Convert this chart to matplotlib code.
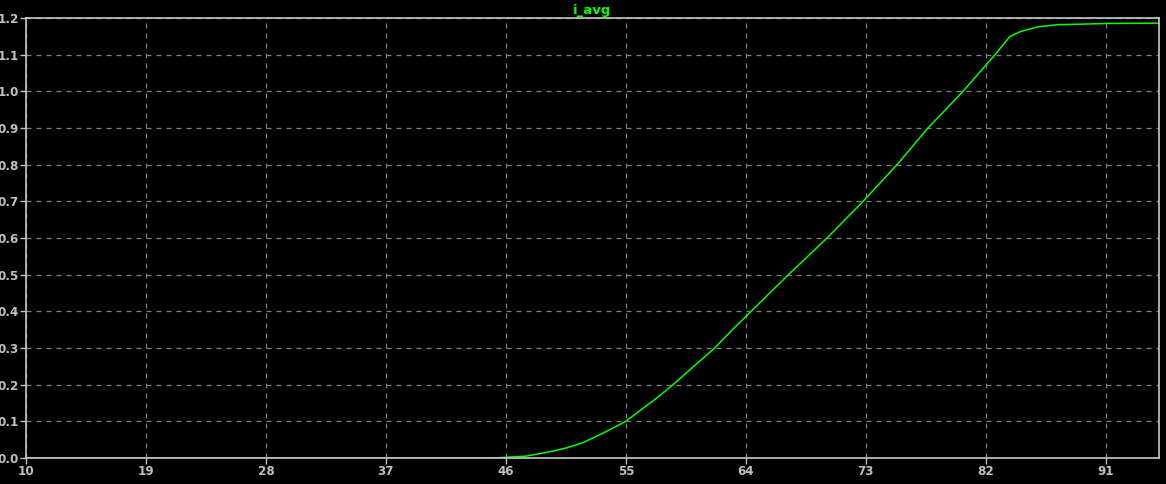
"""
i_avg waveform
"""
import matplotlib
matplotlib.use('Agg')
import matplotlib.pyplot as plt
import numpy as np

matplotlib.rcParams['font.family'] = ['DejaVu Sans']

# data
x = [10, 20, 30, 40, 45, 45.6, 46.5, 47.5, 49.3, 50.5, 51.8, 53.3, 55, 56.05, 57.3, 58.55,
     60.1, 61.67, 63, 64.4, 67.2, 70.1, 72.8, 75.35, 77.67, 80.3, 82.7, 83.8, 84.6, 85.9,
     87.5, 89, 91, 95]
y = [0, 0, 0, 0, 0, 0.001, 0.003, 0.005, 0.017, 0.027, 0.042, 0.068, 0.100, 0.129, 0.163,
     0.200, 0.250, 0.300, 0.350, 0.400, 0.500, 0.600, 0.700, 0.800, 0.900, 1.000, 1.100,
     1.149, 1.163, 1.176, 1.182, 1.183, 1.185, 1.186]
xticks = [10, 19, 28, 37, 46, 55, 64, 73, 82, 91]
yticks = np.round(np.arange(0, 1.21, 0.1), 1)

fig = plt.figure(figsize=(11.66, 4.84), dpi=100, facecolor='black')
ax = fig.add_axes([26 / 1166, 1 - 458 / 484, (1159 - 26) / 1166, (458 - 18) / 484])
ax.set_facecolor('black')
ax.plot(x, y, color='#00ff00', lw=1.1)

ax.set_xlim(10, 95)
ax.set_ylim(0, 1.2)
ax.set_xticks(xticks)
ax.set_yticks(yticks)
ax.set_yticklabels([f'{v:.1f}' for v in yticks])
ax.grid(True, color='#808080', ls=(0, (4, 4)), lw=0.9)

for s in ax.spines.values():
    s.set_color('#c8c8c8')
    s.set_linewidth(1.2)
ax.tick_params(colors='#c0c0c0', length=4, width=1, pad=1, labelsize=9.5)
for lab in ax.get_xticklabels() + ax.get_yticklabels():
    lab.set_fontweight('bold')
    lab.set_fontstretch('condensed')

ax.set_title('i_avg', color='#00ff00', fontsize=9.5, fontweight='bold', pad=3)

fig.savefig('out.png', dpi=100, facecolor='black')
